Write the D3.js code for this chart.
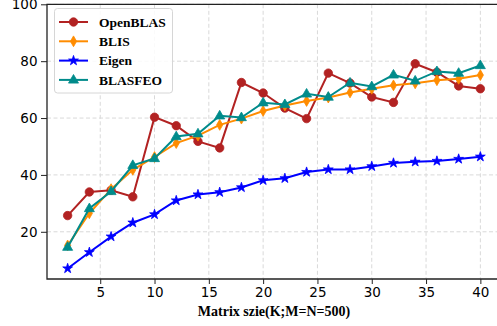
<!DOCTYPE html>
<html>
<head>
<meta charset="utf-8">
<script src="https://cdn.jsdelivr.net/npm/d3@7"></script>
<style>
body { margin: 0; background: #fff; }
</style>
</head>
<body>
<div id="view"></div>
<script>
var width = 497, height = 326;

// matrix size K
var sizes = [2, 4, 6, 8, 10, 12, 14, 16, 18, 20, 22, 24, 26, 28, 30, 32, 34, 36, 38, 40];
var openblas = [25.7, 34.0, 34.6, 32.3, 60.3, 57.3, 51.8, 49.5, 72.5, 68.8, 63.5, 59.8, 75.8, 72.3, 67.4, 65.5, 79.1, 76.1, 71.3, 70.3];
var blis     = [15.2, 26.5, 35.0, 41.8, 46.3, 51.2, 53.8, 57.6, 59.8, 62.5, 64.4, 66.0, 67.2, 69.0, 70.3, 71.5, 72.2, 73.3, 73.8, 75.1];
var eigen    = [7.1, 12.8, 18.3, 23.2, 26.1, 31.0, 33.1, 33.9, 35.6, 38.1, 38.8, 41.0, 41.9, 41.9, 43.0, 44.2, 44.6, 44.9, 45.6, 46.4];
var blasfeo  = [14.6, 28.2, 34.2, 43.4, 45.8, 53.5, 54.5, 60.8, 60.2, 65.4, 64.8, 68.5, 67.4, 72.4, 71.1, 75.2, 73.1, 76.4, 75.8, 78.5];
var xTicks = [5, 10, 15, 20, 25, 30, 35, 40];
var yTicks = [20, 40, 60, 80, 100];

var series = [
	{ name: "OpenBLAS", values: openblas, color: "#b22222", marker: "circle" },
	{ name: "BLIS",     values: blis,     color: "#ff8c00", marker: "thin_diamond" },
	{ name: "Eigen",    values: eigen,    color: "#0000ff", marker: "star" },
	{ name: "BLASFEO",  values: blasfeo,  color: "#008b8b", marker: "triangle" }
];

// plot area (window.top is taken, so use own names)
var pLeft = 47, pTop = 4.3, pRight = 501, pBottom = 279;

var x = d3.scaleLinear().domain([0.1, 41.9]).range([pLeft, pRight]);
var y = d3.scaleLinear().domain([3.4, 100]).range([pBottom, pTop]);

var svg = d3.select("#view").append("svg")
	.attr("width", width)
	.attr("height", height);

// grid
svg.append("g").selectAll("line")
	.data(xTicks).enter()
	.append("line")
	.attr("x1", function(d) { return x(d); })
	.attr("x2", function(d) { return x(d); })
	.attr("y1", pTop).attr("y2", pBottom)
	.style("stroke", "#d9d9d9")
	.style("stroke-width", 1)
	.style("stroke-dasharray", "4,2.5");
svg.append("g").selectAll("line")
	.data(yTicks).enter()
	.append("line")
	.attr("x1", pLeft).attr("x2", pRight)
	.attr("y1", function(d) { return y(d); })
	.attr("y2", function(d) { return y(d); })
	.style("stroke", "#d9d9d9")
	.style("stroke-width", 1)
	.style("stroke-dasharray", "4,2.5");

// axes
var xAxis = d3.axisBottom(x).tickValues(xTicks).tickSize(5).tickPadding(3);
var yAxis = d3.axisLeft(y).tickValues(yTicks).tickSize(6).tickPadding(3.5);

var gx = svg.append("g").attr("transform", "translate(0," + pBottom + ")").call(xAxis);
var gy = svg.append("g").attr("transform", "translate(" + pLeft + ",0)").call(yAxis);
[gx, gy].forEach(function(g) {
	g.select(".domain").remove();
	g.selectAll("line").style("stroke", "#222").style("stroke-width", 1);
	g.selectAll("text")
		.style("font-family", "'DejaVu Sans', sans-serif")
		.style("font-size", "13.5px")
		.style("fill", "#000");
});

// spines (top, bottom, left)
svg.append("path")
	.attr("d", "M" + pRight + "," + pTop + "H" + pLeft + "V" + pBottom + "H" + pRight)
	.style("fill", "none")
	.style("stroke", "#222")
	.style("stroke-width", 1.3);

// marker shapes
function markerPath(kind) {
	if (kind == "circle") return d3.symbol().type(d3.symbolCircle).size(56)();
	if (kind == "star") return d3.symbol().type(d3.symbolStar).size(30)();
	if (kind == "triangle") return "M0,-5.4L5,3.2L-5,3.2Z";
	return "M0,-5.4L3.1,0L0,5.4L-3.1,0Z";		// thin diamond
}

var line = d3.line()
	.x(function(d) { return x(d.k); })
	.y(function(d) { return y(d.v); });

series.forEach(function(s) {
	var pts = sizes.map(function(k, i) { return { k: k, v: s.values[i] }; });
	var g = svg.append("g");
	g.append("path")
		.datum(pts)
		.attr("d", line)
		.style("fill", "none")
		.style("stroke", s.color)
		.style("stroke-width", 2);
	g.selectAll("path.m")
		.data(pts).enter()
		.append("path")
		.attr("class", "m")
		.attr("transform", function(d) { return "translate(" + x(d.k) + "," + y(d.v) + ")"; })
		.attr("d", markerPath(s.marker))
		.style("fill", s.color)
		.style("stroke", s.color)
		.style("stroke-width", 0.8);
});

// x label
svg.append("text")
	.attr("x", (pLeft + pRight) / 2)
	.attr("y", 316)
	.attr("text-anchor", "middle")
	.style("font-family", "'Liberation Serif', 'Times New Roman', serif")
	.style("font-weight", "bold")
	.style("font-size", "14px")
	.text("Matrix szie(K;M=N=500)");

// legend
var legend = svg.append("g");
legend.append("rect")
	.attr("x", 54.5).attr("y", 8.5)
	.attr("width", 118).attr("height", 84.5)
	.attr("rx", 3)
	.style("fill", "#fff")
	.style("fill-opacity", 0.85)
	.style("stroke", "#d6d6d6")
	.style("stroke-width", 1);
series.forEach(function(s, i) {
	var ly = 22 + i * 19.3;
	legend.append("line")
		.attr("x1", 59).attr("x2", 88)
		.attr("y1", ly).attr("y2", ly)
		.style("stroke", s.color)
		.style("stroke-width", 2);
	legend.append("path")
		.attr("transform", "translate(73.5," + ly + ")")
		.attr("d", markerPath(s.marker))
		.style("fill", s.color)
		.style("stroke", s.color)
		.style("stroke-width", 0.8);
	legend.append("text")
		.attr("x", 99)
		.attr("y", ly + 4.8)
		.style("font-family", "'Liberation Serif', 'Times New Roman', serif")
		.style("font-weight", "bold")
		.style("font-size", "13.5px")
		.text(s.name);
});
</script>
</body>
</html>
